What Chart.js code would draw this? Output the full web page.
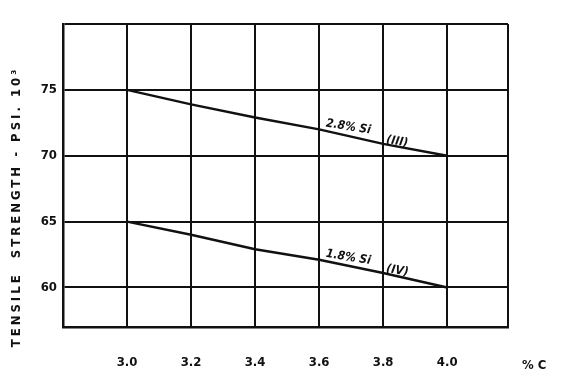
<!DOCTYPE html>
<html>
<head>
<meta charset="utf-8">
<script src="https://cdn.jsdelivr.net/npm/chart.js@4/dist/chart.umd.min.js"></script>
<style>
  html, body { margin: 0; padding: 0; background: #fff; }
  #wrap { width: 561px; height: 388px; position: relative; }
</style>
</head>
<body>
<div id="wrap"><canvas id="c" width="561" height="388"></canvas></div>
<script>
// ---- data ----
const carbonPct = [3.0, 3.2, 3.4, 3.6, 3.8, 4.0];            // % C
const si28_III = [75.0, 73.9, 72.9, 72.0, 70.9, 70.0];       // 2.8% Si (III), psi x 10^3
const si18_IV  = [65.0, 64.0, 62.9, 62.1, 61.1, 60.0];       // 1.8% Si (IV),  psi x 10^3
const xTickValues = [3.0, 3.2, 3.4, 3.6, 3.8, 4.0];
const yTickValues = [60, 65, 70, 75];
const seriesLabels = [["2.8% Si", "(III)"], ["1.8% Si", "(IV)"]];
const yTitle = "TENSILE  STRENGTH - PSI. 10\u00B3";
const xUnit = "% C";

const X_MIN = 2.8, X_MAX = 4.19, Y_MIN = 57, Y_MAX = 80;
const FONT = "'DejaVu Sans Condensed', 'DejaVu Sans', sans-serif";

const annot = {
  id: 'annot',
  afterDraw(chart) {
    const ctx = chart.ctx, xs = chart.scales.x, ys = chart.scales.y, a = chart.chartArea;
    ctx.save();
    ctx.fillStyle = '#111';
    // y-axis title
    ctx.save();
    ctx.translate(17, 207);
    ctx.rotate(-Math.PI / 2);
    ctx.font = "bold 13px " + FONT;
    ctx.letterSpacing = "3px";
    ctx.textAlign = 'center';
    ctx.textBaseline = 'middle';
    ctx.fillText(yTitle, 0, 0);
    ctx.restore();
    // x unit
    ctx.font = "bold 13px " + FONT;
    ctx.textAlign = 'left';
    ctx.textBaseline = 'middle';
    ctx.fillText(xUnit, a.right + 14, xs.bottom - 22);
    // series labels
    const sets = [si28_III, si18_IV];
    sets.forEach((d, i) => {
      const ang = Math.atan2(ys.getPixelForValue(d[5]) - ys.getPixelForValue(d[0]),
                             xs.getPixelForValue(carbonPct[5]) - xs.getPixelForValue(carbonPct[0])) * 0.8;
      ctx.save();
      ctx.font = "italic bold 12px " + FONT;
      ctx.textBaseline = 'alphabetic';
      ctx.translate(xs.getPixelForValue(3.62), ys.getPixelForValue(d[3]) - 3);
      ctx.rotate(ang);
      ctx.fillText(seriesLabels[i][0], 0, 0);
      ctx.restore();
      ctx.save();
      ctx.font = "italic bold 12px " + FONT;
      ctx.translate(xs.getPixelForValue(3.81), ys.getPixelForValue(d[4]) - 4);
      ctx.rotate(ang);
      ctx.fillText(seriesLabels[i][1], 0, 0);
      ctx.restore();
    });
    ctx.restore();
  }
};

new Chart(document.getElementById('c'), {
  type: 'line',
  data: {
    datasets: [
      { label: '2.8% Si (III)', data: carbonPct.map((x, i) => ({ x, y: si28_III[i] })),
        borderColor: '#111', borderWidth: 2.5, pointRadius: 0, fill: false, tension: 0 },
      { label: '1.8% Si (IV)', data: carbonPct.map((x, i) => ({ x, y: si18_IV[i] })),
        borderColor: '#111', borderWidth: 2.5, pointRadius: 0, fill: false, tension: 0 }
    ]
  },
  options: {
    responsive: false,
    animation: false,
    layout: { padding: { top: 24, right: 53, left: 0, bottom: 0 } },
    plugins: { legend: { display: false }, tooltip: { enabled: false } },
    scales: {
      x: {
        type: 'linear', min: X_MIN, max: X_MAX,
        afterBuildTicks(s) { s.ticks = [X_MIN, ...xTickValues, X_MAX].map(v => ({ value: v })); },
        afterFit(s) { s.height = 61; },
        grid: { color: '#111', lineWidth: 2, drawTicks: false },
        border: { color: '#111', width: 2.5 },
        ticks: {
          padding: 28, color: '#111', maxRotation: 0, autoSkip: false,
          font: { family: FONT, size: 13, weight: 'bold' },
          callback: v => xTickValues.some(t => Math.abs(t - v) < 1e-6) ? v.toFixed(1) : ''
        }
      },
      y: {
        type: 'linear', min: Y_MIN, max: Y_MAX,
        afterBuildTicks(s) { s.ticks = [Y_MIN, ...yTickValues, Y_MAX].map(v => ({ value: v })); },
        afterFit(s) { s.width = 63; },
        grid: { color: '#111', lineWidth: 2, drawTicks: false },
        border: { color: '#111', width: 2.5 },
        ticks: {
          padding: 6, color: '#111', autoSkip: false,
          font: { family: FONT, size: 13, weight: 'bold' },
          callback: v => yTickValues.includes(v) ? String(v) : ''
        }
      }
    }
  },
  plugins: [annot]
});
</script>
</body>
</html>
